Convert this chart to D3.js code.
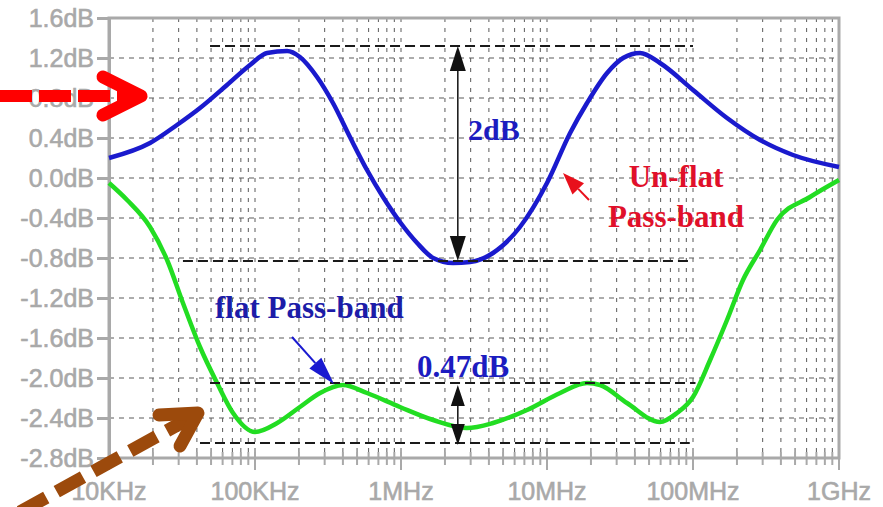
<!DOCTYPE html>
<html>
<head>
<meta charset="utf-8">
<script src="https://cdn.jsdelivr.net/npm/d3@7"></script>
<style>
  body { margin: 0; background: #fff; }
</style>
</head>
<body>
<div id="chart"></div>
<script>
// frequency in Hz, gain in dB
const freqBlue = [1e4, 1.91e4, 2.92e4, 4.2e4, 6.43e4, 9.24e4, 1.21e5, 1.66e5, 2.03e5, 2.66e5, 3.42e5, 4.47e5, 5.85e5, 7.53e5, 9.84e5, 1.29e6, 1.66e6, 2.27e6, 2.97e6, 4.27e6, 6.53e6, 1e7, 1.44e7, 1.88e7, 2.58e7, 3.32e7, 4.34e7, 5.94e7, 1e8, 1.71e8, 2.88e8, 4.84e8, 1e9];
const dbBlue = [0.20, 0.35, 0.53, 0.70, 0.93, 1.13, 1.25, 1.27, 1.21, 1.01, 0.75, 0.41, 0.08, -0.19, -0.44, -0.65, -0.80, -0.85, -0.84, -0.75, -0.49, -0.05, 0.45, 0.75, 1.05, 1.20, 1.25, 1.15, 0.88, 0.60, 0.38, 0.23, 0.11];

const freqGreen = [1e4, 1.33e4, 1.91e4, 2.5e4, 3.21e4, 4.2e4, 5.5e4, 7.07e4, 1e5, 1.42e5, 2.03e5, 2.79e5, 4.0e5, 5.85e5, 9.84e5, 1.66e6, 2.83e6, 4.27e6, 7.3e6, 1.23e7, 1.88e7, 2.31e7, 3.53e7, 5.94e7, 7.77e7, 1e8, 1.31e8, 1.71e8, 2.2e8, 2.88e8, 3.76e8, 6.33e8, 1e9];
const dbGreen = [-0.05, -0.22, -0.49, -0.82, -1.25, -1.69, -2.05, -2.35, -2.54, -2.45, -2.29, -2.15, -2.07, -2.15, -2.29, -2.42, -2.50, -2.45, -2.32, -2.15, -2.05, -2.07, -2.25, -2.44, -2.35, -2.19, -1.82, -1.42, -1.02, -0.72, -0.42, -0.19, -0.02];

const yTicks = [1.6, 1.2, 0.8, 0.4, 0.0, -0.4, -0.8, -1.2, -1.6, -2.0, -2.4, -2.8];
const xTicks = [1e4, 1e5, 1e6, 1e7, 1e8, 1e9];
const xTickLabels = ["10KHz", "100KHz", "1MHz", "10MHz", "100MHz", "1GHz"];

// ripple markers: [level dB, from Hz, to Hz]
const levelLines = [
    [1.32, 4.92e4, 1.0e8],
    [-0.83, 3.21e4, 9.5e7],
    [-2.05, 4.92e4, 1.04e8],
    [-2.65, 4.2e4, 9.5e7]
];
const rippleFreq = 2.45e6;

const W = 883, H = 507;
const svg = d3.select("#chart").append("svg")
    .attr("width", W)
    .attr("height", H)
    .style("font-family", "'Liberation Sans', Arial, sans-serif");

const x = d3.scaleLog().domain([1e4, 1e9]).range([109, 839]);
const y = d3.scaleLinear().domain([-2.8, 1.6]).range([458, 18]);

const axisGray = "#a9a9a9";

// grid
const minor = [];
for (let d = 4; d < 9; d++) {
    for (let k = 1; k <= 9; k++) {
        const f = k * Math.pow(10, d);
        if (f > 1e4) minor.push(f);
    }
}
const grid = svg.append("g");
grid.selectAll("line.v").data(minor).join("line")
    .attr("x1", d => x(d)).attr("x2", d => x(d))
    .attr("y1", y(1.6)).attr("y2", y(-2.8))
    .attr("stroke", "#5a5a5a").attr("stroke-width", 1)
    .attr("stroke-dasharray", "4,6");
grid.selectAll("line.h").data(yTicks.slice(1, -1)).join("line")
    .attr("x1", x(1e4)).attr("x2", x(1e9))
    .attr("y1", d => y(d)).attr("y2", d => y(d))
    .attr("stroke", "#5a5a5a").attr("stroke-width", 1)
    .attr("stroke-dasharray", "5,5");

// frame
svg.append("rect")
    .attr("x", x(1e4)).attr("y", y(1.6))
    .attr("width", x(1e9) - x(1e4)).attr("height", y(-2.8) - y(1.6))
    .attr("fill", "none").attr("stroke", axisGray).attr("stroke-width", 3);

// left axis
const yAxis = svg.append("g")
    .attr("transform", `translate(${x(1e4)},0)`)
    .call(d3.axisLeft(y).tickValues(yTicks).tickSize(12).tickPadding(3)
        .tickFormat(d => d.toFixed(1) + "dB"));
yAxis.select(".domain").attr("stroke", axisGray).attr("stroke-width", 3);
yAxis.selectAll(".tick line").attr("stroke", axisGray).attr("stroke-width", 3);
yAxis.selectAll(".tick text")
    .attr("fill", axisGray)
    .attr("stroke", axisGray).attr("stroke-width", 0.6)
    .attr("font-size", 25)
    .attr("font-family", "'Liberation Sans', Arial, sans-serif");

// bottom ticks
svg.append("g").selectAll("line").data(minor.concat(xTicks)).join("line")
    .attr("x1", d => x(d)).attr("x2", d => x(d))
    .attr("y1", y(-2.8) - 6)
    .attr("y2", d => xTicks.includes(d) ? y(-2.8) + 12 : y(-2.8) + 7)
    .attr("stroke", axisGray).attr("stroke-width", 2);
svg.append("g").selectAll("text").data(xTicks).join("text")
    .attr("x", d => x(d))
    .attr("y", 500)
    .attr("text-anchor", "middle")
    .attr("fill", axisGray)
    .attr("stroke", axisGray).attr("stroke-width", 0.6)
    .attr("font-size", 25)
    .text((d, i) => xTickLabels[i]);

// curves
const line = d3.line()
    .x(d => x(d[0]))
    .y(d => y(d[1]))
    .curve(d3.curveMonotoneX);

svg.append("path")
    .datum(freqGreen.map((f, i) => [f, dbGreen[i]]))
    .attr("d", line)
    .attr("fill", "none").attr("stroke", "#22dd22").attr("stroke-width", 4.5)
    .attr("stroke-linejoin", "round");

svg.append("path")
    .datum(freqBlue.map((f, i) => [f, dbBlue[i]]))
    .attr("d", line)
    .attr("fill", "none").attr("stroke", "#1a1acd").attr("stroke-width", 4.5)
    .attr("stroke-linejoin", "round");

// ripple level lines
svg.append("g").selectAll("line").data(levelLines).join("line")
    .attr("x1", d => x(d[1])).attr("x2", d => x(d[2]))
    .attr("y1", d => y(d[0])).attr("y2", d => y(d[0]))
    .attr("stroke", "#1a1a1a").attr("stroke-width", 2)
    .attr("stroke-dasharray", "10,5");

// double arrows
function doubleArrow(xp, y1, y2, len, half) {
    const g = svg.append("g");
    g.append("line")
        .attr("x1", xp).attr("x2", xp).attr("y1", y1 + 4).attr("y2", y2 - 4)
        .attr("stroke", "#111").attr("stroke-width", 1.5);
    g.append("path")
        .attr("d", `M${xp},${y1} L${xp - half},${y1 + len} L${xp + half},${y1 + len} Z`)
        .attr("fill", "#111");
    g.append("path")
        .attr("d", `M${xp},${y2} L${xp - half},${y2 - len} L${xp + half},${y2 - len} Z`)
        .attr("fill", "#111");
}
doubleArrow(x(rippleFreq), y(levelLines[0][0]), y(levelLines[1][0]), 25, 8);
doubleArrow(x(rippleFreq), y(levelLines[2][0]) + 2, y(levelLines[3][0]) + 2, 21, 7);

// pointer arrows
function pointer(x1, y1, x2, y2, color, len, half) {
    const a = Math.atan2(y2 - y1, x2 - x1);
    const bx = x2 - len * Math.cos(a), by = y2 - len * Math.sin(a);
    const px = -Math.sin(a) * half, py = Math.cos(a) * half;
    svg.append("line")
        .attr("x1", x1).attr("y1", y1).attr("x2", bx).attr("y2", by)
        .attr("stroke", color).attr("stroke-width", 2);
    svg.append("path")
        .attr("d", `M${x2},${y2} L${bx + px},${by + py} L${bx - px},${by - py} Z`)
        .attr("fill", color);
}
pointer(589, 200, 563, 173, "#e8101c", 22, 8);
pointer(292, 337, 334, 384, "#1a1ad0", 28, 8);

// annotation texts
const serif = "'Liberation Serif', 'Times New Roman', serif";
svg.append("text").attr("x", 468).attr("y", 140)
    .attr("font-family", serif).attr("font-weight", "bold").attr("font-size", 30)
    .attr("fill", "#1c1cc0").text("2dB");
svg.append("text").attr("x", 676).attr("y", 187).attr("text-anchor", "middle")
    .attr("font-family", serif).attr("font-weight", "bold").attr("font-size", 31)
    .attr("fill", "#e0102a").text("Un-flat");
svg.append("text").attr("x", 676).attr("y", 227).attr("text-anchor", "middle")
    .attr("font-family", serif).attr("font-weight", "bold").attr("font-size", 31)
    .attr("fill", "#e0102a").text("Pass-band");
svg.append("text").attr("x", 215).attr("y", 318)
    .attr("font-family", serif).attr("font-weight", "bold").attr("font-size", 31)
    .attr("fill", "#1c1ca8").text("flat Pass-band");
svg.append("text").attr("x", 417).attr("y", 377)
    .attr("font-family", serif).attr("font-weight", "bold").attr("font-size", 31)
    .attr("fill", "#1c1cc0").text("0.47dB");

// big red dashed arrow
svg.append("path").attr("d", "M0,96 L128,96")
    .attr("stroke", "#ff0000").attr("stroke-width", 12)
    .attr("stroke-dasharray", "32,7").attr("fill", "none");
svg.append("path").attr("d", "M103,77 L141,96 L103,115")
    .attr("stroke", "#ff0000").attr("stroke-width", 13).attr("fill", "none")
    .attr("stroke-linecap", "round").attr("stroke-linejoin", "round");

// brown dashed arrow
svg.append("path").attr("d", "M20,512 L190,418")
    .attr("stroke", "#9c4a0c").attr("stroke-width", 13)
    .attr("stroke-dasharray", "30,12").attr("fill", "none");
svg.append("path").attr("d", "M159,415 L198,413 L180,446")
    .attr("stroke", "#9c4a0c").attr("stroke-width", 13).attr("fill", "none")
    .attr("stroke-linecap", "round").attr("stroke-linejoin", "round");
</script>
</body>
</html>
